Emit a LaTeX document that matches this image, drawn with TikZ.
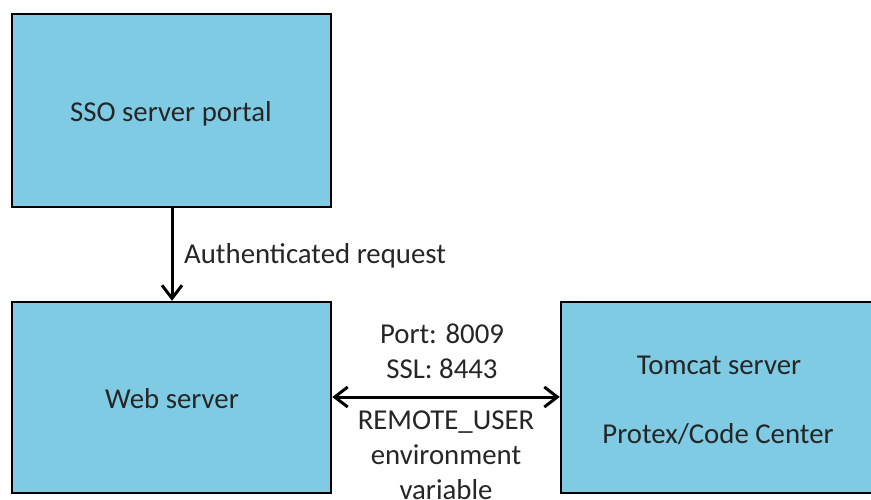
\documentclass[tikz,border=0pt]{standalone}
\usepackage{fontspec}
\setmainfont{Carlito}
\usetikzlibrary{arrows.meta}
\definecolor{boxblue}{HTML}{7ECBE3}
\definecolor{txt}{HTML}{262626}
\begin{document}
\begin{tikzpicture}[x=1pt,y=1pt,
  box/.style={draw=black,line width=2.5pt,fill=boxblue,inner sep=0pt},
  lbl/.style={text=txt,font=\fontsize{28.8}{35}\selectfont,inner sep=0pt,align=center},
  tip/.tip={Straight Barb[length=13pt,width=20pt,line width=3pt]},
  conn/.style={line width=3pt,-tip}]
\useasboundingbox (0,0) rectangle (871,499);
\fill[white] (0,0) rectangle (871,499);
\node[box,minimum width=319pt,minimum height=193pt] (sso) at (171.5,388.5) {};
\node[box,minimum width=319pt,minimum height=191pt] (web) at (171.5,101.5) {};
\node[box,minimum width=312pt,minimum height=191pt] (tom) at (717,101.5) {};
\node[lbl] (ssot) at (171,385) {SSO server portal};
\node[lbl] (webt) at (172,100) {Web server};
\node[lbl] (tom1) at (719,134) {Tomcat server};
\node[lbl] (tom2) at (718,65) {Protex/Code Center};
\draw[conn] (sso.south -| 172,0) coordinate (a1) -- (web.north -| 172,0) coordinate (a2);
\node[lbl,anchor=west] (auth) at (184,243) {Authenticated request};
\draw[conn,tip-tip] (web.east |- 0,102) -- (tom.west |- 0,102);
\node[lbl] (port) at (442,148) {Port: 8009\\SSL: 8443};
\node[lbl] (remote) at (446,44) {REMOTE\_USER\\environment\\variable};
\end{tikzpicture}
\end{document}
